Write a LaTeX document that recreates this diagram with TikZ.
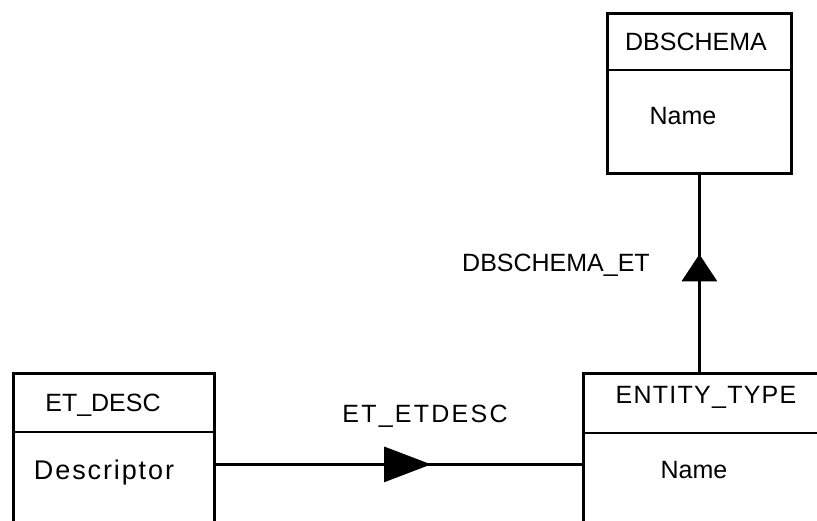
\documentclass[tikz,border=0pt]{standalone}
\usepackage{fontspec}
\setmainfont{Liberation Sans}
\usetikzlibrary{arrows.meta}
\usetikzlibrary{decorations.markings}

\tikzset{
  entitybox/.style={draw,line width=2.8bp,anchor=north west,inner sep=0pt},
  boxtext/.style={anchor=center,inner sep=0pt,font=\fontsize{25bp}{30bp}\selectfont},
  relline/.style={line width=2.8bp},
  midarrow/.style 2 args={postaction={decorate},decoration={markings,
    mark=at position #1 with {\arrow{Triangle[length=#2,width=35bp]}}}}
}

\begin{document}
\begin{tikzpicture}[x=1bp,y=1bp]
\useasboundingbox (0,0) rectangle (817,521);
\clip (0,0) rectangle (817,521);

% entity boxes
\node[entitybox,minimum width=184bp,minimum height=160bp] (dbschema) at (606,509) {};
\node[entitybox,minimum width=201bp,minimum height=182bp] (etdesc) at (12,149) {};
\node[entitybox,minimum width=260bp,minimum height=182bp] (entitytype) at (582,149) {};

\draw[line width=2.8bp] (606,451) -- (790,451);
\draw[line width=2.8bp] (12,89) -- (213,89);
\draw[line width=2.8bp] (582,88) -- (842,88);

% box texts
\node[boxtext] (dbschemaname) at (696,479) {DBSCHEMA};
\node[boxtext] (dbschemaattr) at (683,405) {Name};
\node[boxtext] (etdescname) at (103,116) {ET\_DESC};
\node[boxtext,font=\fontsize{27bp}{30bp}\selectfont\addfontfeature{LetterSpace=7}] (etdescattr) at (104,48) {Descriptor};
\node[boxtext,font=\fontsize{25bp}{30bp}\selectfont\addfontfeature{LetterSpace=5}] (entitytypename) at (706,124) {ENTITY\_TYPE};
\node[boxtext] (entitytypeattr) at (694,51) {Name};

% relationships
\draw[relline,midarrow={0.597}{27bp}] (dbschema.south |- entitytype.north) -- (dbschema.south);
\draw[relline,midarrow={0.588}{47bp}] (etdesc.east) -- (etdesc.east -| entitytype.west);
%\draw (0,58) -- (817,58);

\node[boxtext] (dbschemaet) at (556,256) {DBSCHEMA\_ET};
\node[boxtext,font=\fontsize{25bp}{30bp}\selectfont\addfontfeature{LetterSpace=9}] (etetdesc) at (425,105) {ET\_ETDESC};

\end{tikzpicture}
\end{document}
